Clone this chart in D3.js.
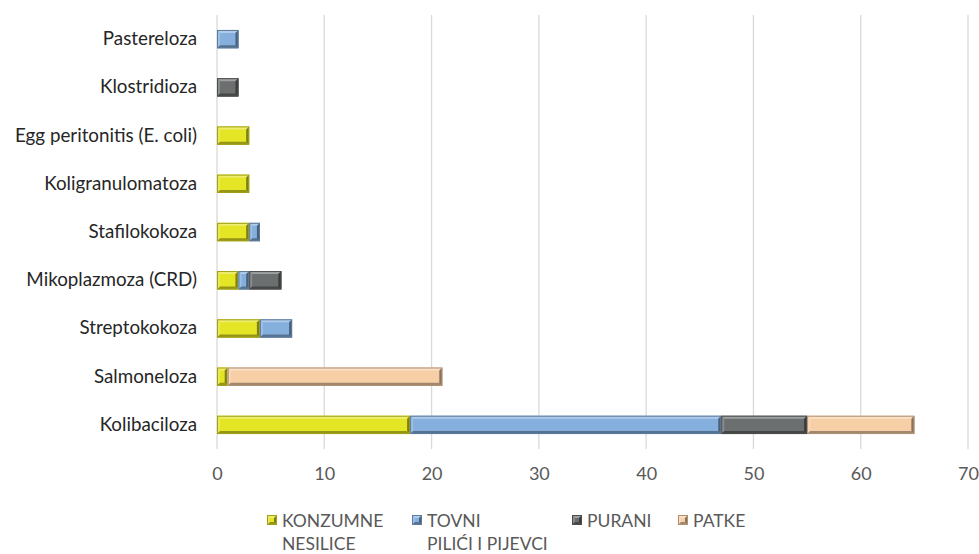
<!DOCTYPE html>
<html><head><meta charset="utf-8">
<script src="https://cdn.jsdelivr.net/npm/d3@7"></script>
<style>body{margin:0;background:#fff}svg{display:block}text{font-family:Lato,sans-serif}</style>
</head><body><svg id="c" width="979" height="554"></svg>
<script>
const categories = ["Pastereloza","Klostridioza","Egg peritonitis (E. coli)","Koligranulomatoza","Stafilokokoza","Mikoplazmoza (CRD)","Streptokokoza","Salmoneloza","Kolibaciloza"];
const seriesNames = ["KONZUMNE NESILICE","TOVNI PILIĆI I PIJEVCI","PURANI","PATKE"];
const legendLines = [["KONZUMNE","NESILICE"],["TOVNI","PILIĆI I PIJEVCI"],["PURANI"],["PATKE"]];
const konzumne = [0,0,3,3,3,2,4,1,18];
const tovni    = [2,0,0,0,1,1,3,0,29];
const purani   = [0,2,0,0,0,3,0,0,8];
const patke    = [0,0,0,0,0,0,0,20,10];
const xTicks = [0,10,20,30,40,50,60,70];
const colors = ["#e4e524","#85b0de","#6c6f6f","#f7cfa7"];
const FONT = "Lato,sans-serif";

const svg = d3.select("#c");
const x = d3.scaleLinear().domain([0,70]).range([217,968]);
const y = d3.scaleBand().domain(categories).range([15,449]).paddingInner(0.62).paddingOuter(0.31);

svg.append("g").selectAll("line").data(xTicks.slice(1)).join("line")
  .attr("x1",d=>x(d)).attr("x2",d=>x(d)).attr("y1",15).attr("y2",449)
  .attr("stroke","#d9d9d9").attr("stroke-width",1.3);
svg.append("line").attr("x1",x(0)).attr("x2",x(0)).attr("y1",15).attr("y2",449)
  .attr("stroke","#d9d9d9").attr("stroke-width",1.3);

const xAxis = d3.axisBottom(x).tickValues(xTicks).tickSize(0).tickPadding(0);
const gx = svg.append("g").attr("transform","translate(0,467)").call(xAxis);
gx.select(".domain").remove();
gx.selectAll("text").attr("font-size",18).attr("fill","#595959").attr("dy","0.71em").style("font-family",FONT);

const yAxis = d3.axisLeft(y).tickSize(0).tickPadding(0);
const gy = svg.append("g").attr("transform","translate(197,0)").call(yAxis);
gy.select(".domain").remove();
gy.selectAll("text").attr("font-size",18.8).attr("fill","#262626").style("font-family",FONT);

const rows = categories.map((c,i)=>({cat:c, s0:konzumne[i], s1:tovni[i], s2:purani[i], s3:patke[i]}));
const stack = d3.stack().keys(["s0","s1","s2","s3"])(rows);

function shade(col,k){ return k>0? d3.interpolateRgb(col,"#fff")(k) : d3.interpolateRgb(col,"#000")(-k); }

function bevel(g, x0, y0, w, h, col){
  const b = Math.min(3, w/2.5);
  g.append("rect").attr("x",x0).attr("y",y0).attr("width",w).attr("height",h).attr("fill",col);
  g.append("polygon").attr("points",[[x0,y0],[x0+w,y0],[x0+w-b,y0+b],[x0+b,y0+b]].join(" ")).attr("fill",shade(col,0.35));
  g.append("polygon").attr("points",[[x0,y0],[x0+b,y0+b],[x0+b,y0+h-b],[x0,y0+h]].join(" ")).attr("fill",shade(col,0.2));
  g.append("polygon").attr("points",[[x0,y0+h],[x0+b,y0+h-b],[x0+w-b,y0+h-b],[x0+w,y0+h]].join(" ")).attr("fill",shade(col,-0.35));
  g.append("polygon").attr("points",[[x0+w,y0],[x0+w,y0+h],[x0+w-b,y0+h-b],[x0+w-b,y0+b]].join(" ")).attr("fill",shade(col,-0.45));
  g.append("rect").attr("x",x0+0.5).attr("y",y0+0.5).attr("width",Math.max(0,w-1)).attr("height",h-1)
    .attr("fill","none").attr("stroke",shade(col,-0.3)).attr("stroke-width",1);
}

const bars = svg.append("g");
stack.forEach((layer,si)=>{
  layer.forEach(d=>{
    const w = x(d[1])-x(d[0]);
    if (w<=0) return;
    bevel(bars, x(d[0]), y(d.data.cat), w, y.bandwidth(), colors[si]);
  });
});

const legX = [267,412,572,678];
const leg = svg.append("g");
legendLines.forEach((lines,i)=>{
  bevel(leg, legX[i], 515, 10, 10, colors[i]);
  lines.forEach((t,j)=>{
    leg.append("text").attr("x",legX[i]+15).attr("y",527+j*23).attr("font-size",17.5).attr("fill","#595959").style("font-family",FONT).text(t);
  });
});
</script></body></html>
